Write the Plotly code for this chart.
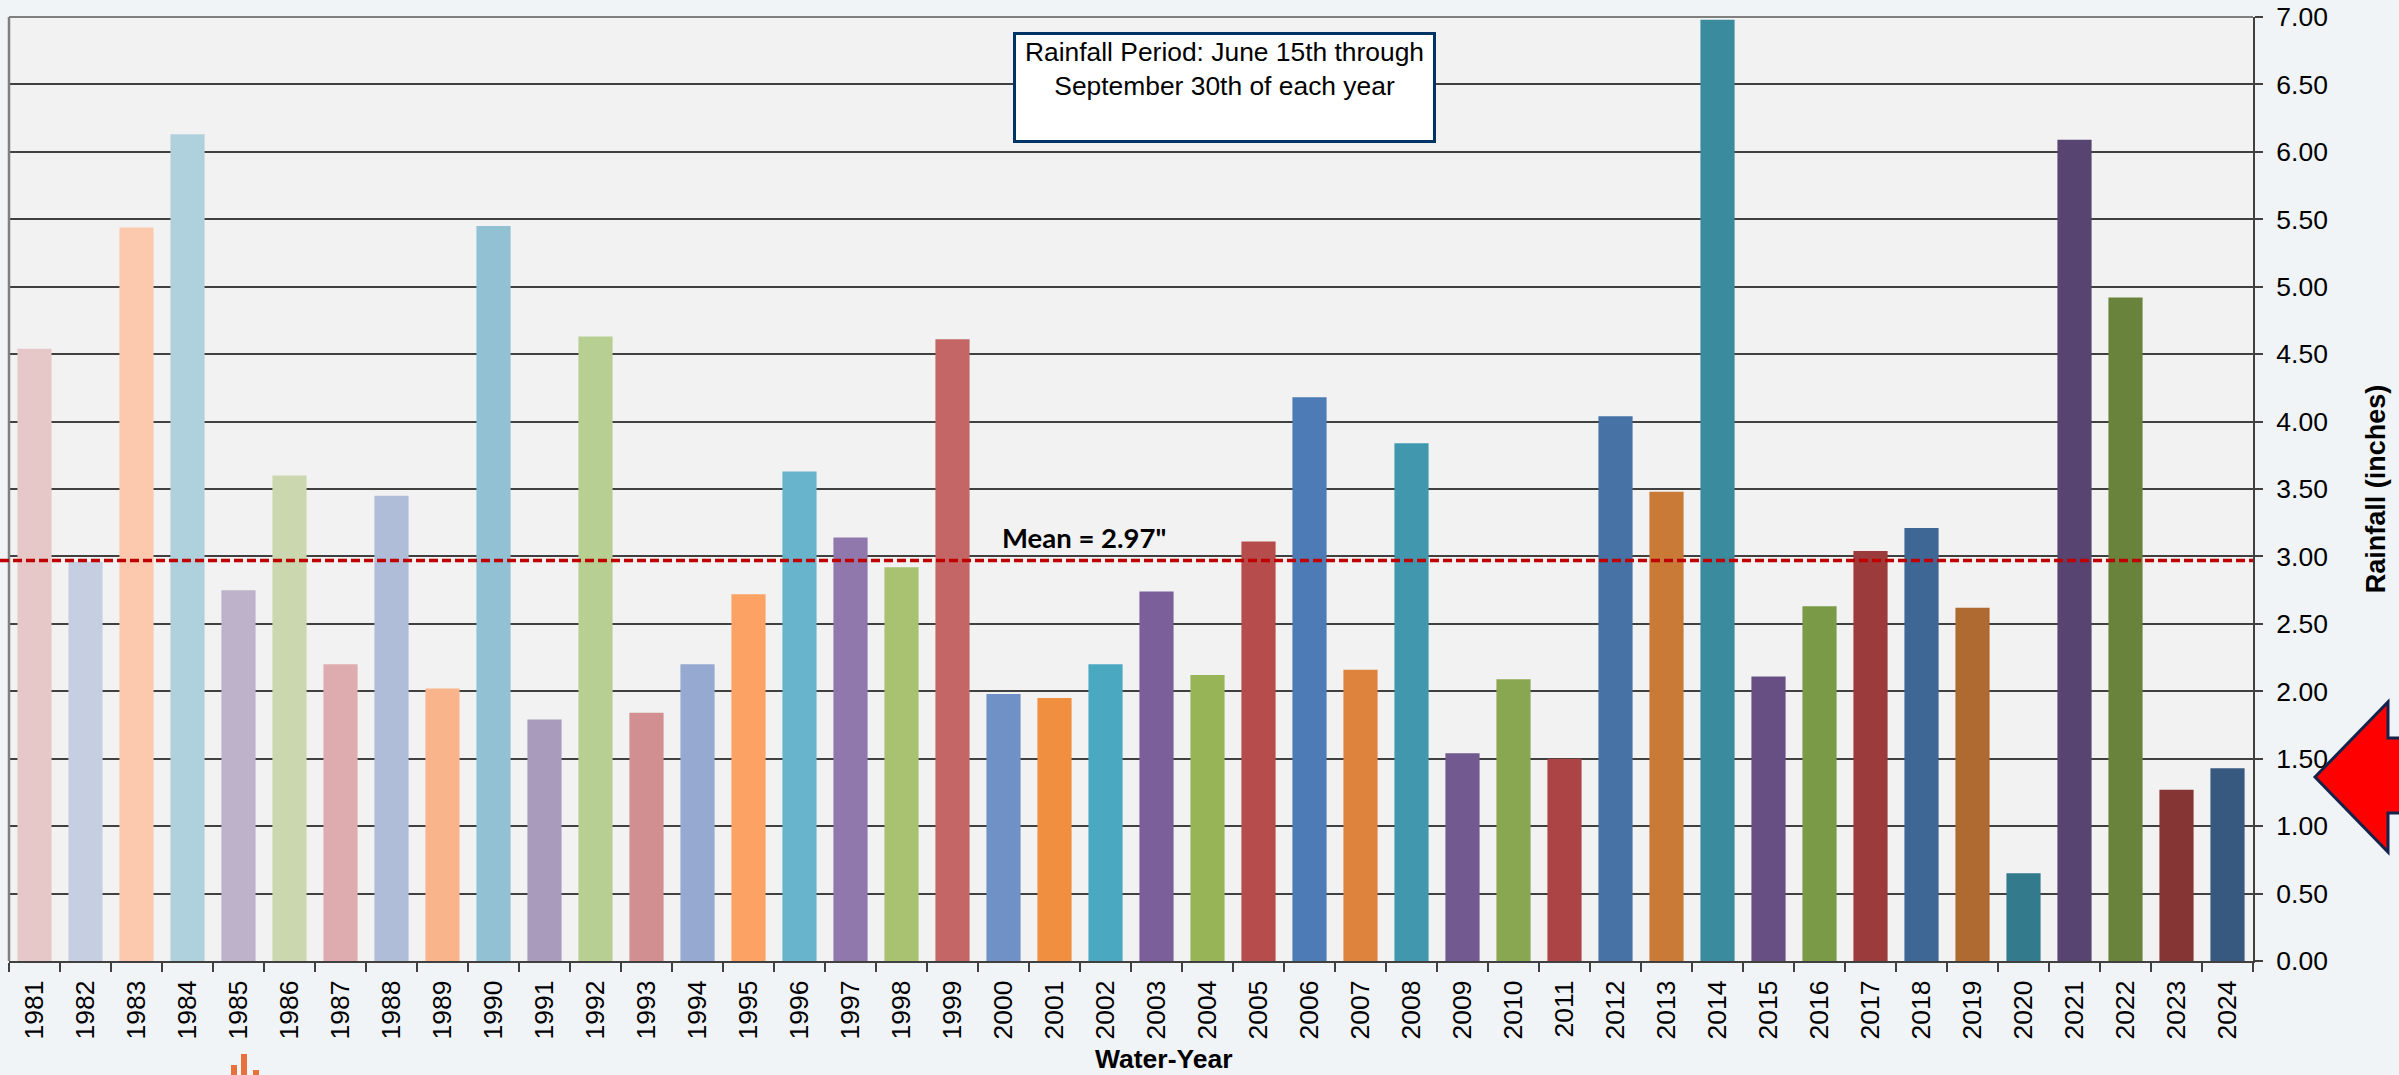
import plotly.graph_objects as go

years = [str(y) for y in [1981,1982,1983,1984,1985,1986,1987,1988,1989,1990,1991,1992,1993,1994,1995,
         1996,1997,1998,1999,2000,2001,2002,2003,2004,2005,2006,2007,2008,2009,2010,2011,2012,2013,2014,
         2015,2016,2017,2018,2019,2020,2021,2022,2023,2024]]
rainfall = [4.54,2.96,5.44,6.13,2.75,3.60,2.20,3.45,2.02,5.45,1.79,4.63,1.84,2.20,2.72,
            3.63,3.14,2.92,4.61,1.98,1.95,2.20,2.74,2.12,3.11,4.18,2.16,3.84,1.54,2.09,1.50,4.04,3.48,6.98,
            2.11,2.63,3.04,3.21,2.62,0.65,6.09,4.92,1.27,1.43]
bar_colors = ["#E6C8C9","#C6CFE2","#FCC8AE","#AFD1DD","#BDB2CA","#CAD7AF","#DEACAE","#AFBDD9","#FAB48C","#92C1D3",
              "#A99BBC","#B8CF94","#D18F91","#95A9D1","#FBA264","#68B4CC","#9078AC","#A8C272","#C46666","#6F91C5",
              "#F08F40","#4BA8C1","#7B5F9B","#97B557","#B64C4C","#4C7BB5","#DD833D","#4097AE","#725A90","#89A750",
              "#AC4345","#4672A6","#C97A37","#3B8B9F","#674F83","#7A9A47","#9B3B3B","#3E6796","#AE6A30","#327A8C",
              "#574471","#6A833C","#843534","#37587F"]
mean_value = 2.97
y_ticks = [0,0.5,1,1.5,2,2.5,3,3.5,4,4.5,5,5.5,6,6.5,7]

W, H = 2399, 1075
L, R, T, B = 9, 2253, 17, 961
px = lambda x: (x - L) / (R - L)
py = lambda y: (B - y) / (B - T)

def poly(points):
    return "M " + " L ".join(f"{px(x):.5f},{py(y):.5f}" for x, y in points) + " Z"

fig = go.Figure(go.Bar(x=years, y=rainfall, marker=dict(color=bar_colors, line_width=0), showlegend=False))

shapes = [
    dict(type="line", xref="paper", yref="paper", x0=0, x1=0, y0=0, y1=1, line=dict(color="#808080", width=2.5), layer="above"),
    dict(type="line", xref="paper", yref="paper", x0=0, x1=1, y0=1, y1=1, line=dict(color="#808080", width=2), layer="above"),
    dict(type="line", xref="paper", yref="y", x0=px(0), x1=1, y0=mean_value, y1=mean_value,
         line=dict(color="#C00000", width=3.5, dash="9px,4px"), layer="above"),
    dict(type="path", xref="paper", yref="paper",
         path=poly([(2315,777),(2388,702),(2388,738),(2402,738),(2402,813),(2388,813),(2388,852)]),
         fillcolor="#FF0000", line=dict(color="#14234B", width=3), layer="above"),
]
for x0, x1, y0 in [(231,237,1065),(241,247,1054),(253,259,1070)]:
    shapes.append(dict(type="rect", xref="paper", yref="paper", x0=px(x0), x1=px(x1), y0=py(y0), y1=py(1078),
                       fillcolor="#E8703A", line_width=0, layer="above"))

annotations = [
    dict(xref="paper", yref="paper", x=px(1224.5), y=py(32), xanchor="center", yanchor="top",
         text="Rainfall Period: June 15th through<br>September 30th of each year", showarrow=False,
         width=413, height=101, valign="top", align="center", bgcolor="#FFFFFF", bordercolor="#003366",
         borderwidth=3, borderpad=2, font=dict(family="Liberation Sans", size=26.4, color="#000000")),
    dict(xref="paper", yref="paper", x=px(1084), y=py(538), xanchor="center", yanchor="middle",
         text=f'<b>Mean = {mean_value}"</b>', showarrow=False,
         font=dict(family="Lato", size=27.5, color="#000000")),
    dict(xref="paper", yref="paper", x=px(1164), y=py(1075), xanchor="center", yanchor="bottom",
         text="<b>Water-Year</b>", showarrow=False, borderpad=0,
         font=dict(family="Liberation Sans", size=26.5, color="#000000")),
]

fig.update_layout(
    width=W, height=H, autosize=False,
    margin=dict(l=L, r=W-R, t=T, b=H-B, pad=0),
    paper_bgcolor="#F0F4F7", plot_bgcolor="#F2F2F2",
    bargap=0.33, shapes=shapes, annotations=annotations,
    font=dict(family="Liberation Sans", color="#000000"),
)
fig.update_xaxes(type="category", tickson="boundaries", ticks="outside", ticklen=9, tickwidth=1.5, tickcolor="#404040",
                 showgrid=False, showline=True, linecolor="#404040", linewidth=2, tickangle=-90,
                 tickfont=dict(size=26.5), ticklabelstandoff=7, automargin=False)
fig.update_yaxes(side="right", range=[0,7], tickvals=y_ticks, ticktext=[f"{v:.2f}" for v in y_ticks],
                 ticks="outside", ticklen=8, tickwidth=1.5, tickcolor="#404040",
                 showgrid=True, gridcolor="#404040", gridwidth=1.5, zeroline=False,
                 showline=True, linecolor="#404040", linewidth=2,
                 tickfont=dict(size=26.5), ticklabelstandoff=8,
                 title=dict(text="<b>Rainfall (inches)</b>", font=dict(size=27), standoff=39), automargin=False)

fig.write_html("out.html", config=dict(displayModeBar=False),
               post_script="document.body.style.margin='0';document.body.style.overflow='hidden';")
